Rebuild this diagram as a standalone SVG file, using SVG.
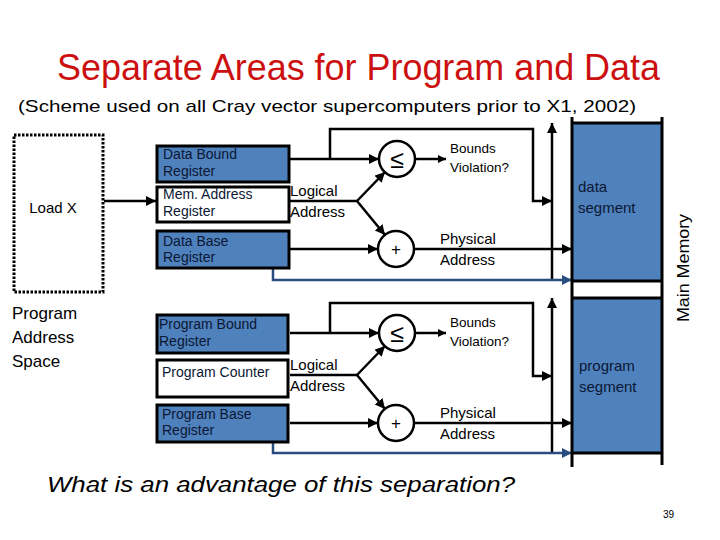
<svg xmlns="http://www.w3.org/2000/svg" width="720" height="540" viewBox="0 0 720 540">
<defs>
<style>
text{font-family:"Liberation Sans",Arial,sans-serif;}
.reg{fill:#4F81BD;stroke:#000;stroke-width:3;}
.wreg{fill:#fff;stroke:#000;stroke-width:3;}
.rt{font-size:14px;fill:#0b1733;}
.lbl{font-size:15px;fill:#000;}
.bv{font-size:13.5px;fill:#000;}
.seg{font-size:15px;fill:#0b1733;}
.ln{fill:none;stroke:#000;stroke-width:2.5;}
.bl{fill:none;stroke:#2B4C7E;stroke-width:2.5;}
.op{fill:#fff;stroke:#000;stroke-width:2.5;}
</style>
<marker id="ah" markerUnits="userSpaceOnUse" markerWidth="11" markerHeight="11" refX="10" refY="5" orient="auto"><path d="M0,0 L10,5 L0,10 z" fill="#000"/></marker>
<marker id="ahs" markerUnits="userSpaceOnUse" markerWidth="9" markerHeight="9" refX="8" refY="4" orient="auto"><path d="M0,0 L8,4 L0,8 z" fill="#000"/></marker>
<marker id="ahb" markerUnits="userSpaceOnUse" markerWidth="11" markerHeight="11" refX="10" refY="5" orient="auto"><path d="M0,0 L10,5 L0,10 z" fill="#2B4C7E"/></marker>
</defs>
<rect width="720" height="540" fill="#fff"/>
<text x="57" y="80" font-size="36" fill="#CC1010" textLength="603" lengthAdjust="spacingAndGlyphs">Separate Areas for Program and Data</text>
<text x="18" y="112" font-size="17" fill="#000" textLength="618" lengthAdjust="spacingAndGlyphs">(Scheme used on all Cray vector supercomputers prior to X1, 2002)</text>

<g id="connectors">
<line class="ln" x1="104" y1="201" x2="156" y2="201" marker-end="url(#ah)"/>
<line class="ln" x1="290" y1="159" x2="379" y2="159" marker-end="url(#ah)"/>
<polyline class="ln" points="330,159 330,129 533,129 533,201 552,201" marker-end="url(#ah)"/>
<line class="ln" x1="552" y1="280" x2="552" y2="123" marker-end="url(#ah)"/>
<line class="ln" x1="290" y1="201" x2="357" y2="201"/>
<line class="ln" x1="357" y1="201" x2="385" y2="172" marker-end="url(#ah)"/>
<line class="ln" x1="357" y1="201" x2="385" y2="235" marker-end="url(#ah)"/>
<line class="ln" x1="290" y1="249" x2="378" y2="249" marker-end="url(#ah)"/>
<line class="ln" x1="415" y1="159" x2="446" y2="159" marker-end="url(#ahs)"/>
<line class="ln" x1="414" y1="249" x2="572" y2="249" marker-end="url(#ah)"/>
<polyline class="bl" points="273,269 273,280 572,280" marker-end="url(#ahb)"/>
<line class="ln" x1="290" y1="333" x2="379" y2="333" marker-end="url(#ah)"/>
<polyline class="ln" points="330,333 330,303 533,303 533,376 552,376" marker-end="url(#ah)"/>
<line class="ln" x1="552" y1="453" x2="552" y2="298" marker-end="url(#ah)"/>
<line class="ln" x1="290" y1="375" x2="357" y2="375"/>
<line class="ln" x1="357" y1="375" x2="385" y2="346" marker-end="url(#ah)"/>
<line class="ln" x1="357" y1="375" x2="385" y2="409" marker-end="url(#ah)"/>
<line class="ln" x1="290" y1="423" x2="378" y2="423" marker-end="url(#ah)"/>
<line class="ln" x1="415" y1="333" x2="446" y2="333" marker-end="url(#ahs)"/>
<line class="ln" x1="414" y1="423" x2="572" y2="423" marker-end="url(#ah)"/>
<polyline class="bl" points="273,443 273,453 572,453" marker-end="url(#ahb)"/>
</g>

<g id="program-address-space">
<rect x="14" y="135" width="89" height="157" fill="none" stroke="#000" stroke-width="3" stroke-dasharray="2.5,1.5"/>
<text x="53" y="213" font-size="15" text-anchor="middle">Load X</text>
<text x="12" y="319" font-size="17">Program</text>
<text x="12" y="343" font-size="17">Address</text>
<text x="12" y="367" font-size="17">Space</text>
</g>

<g id="data-bound-register">
<rect class="reg" x="157" y="146" width="132" height="36"/>
<text class="rt" x="163" y="159">Data Bound</text>
<text class="rt" x="163" y="176">Register</text>
</g>
<g id="mem-address-register">
<rect class="wreg" x="157" y="187" width="132" height="35"/>
<text class="rt" x="163" y="199" fill="#000">Mem. Address</text>
<text class="rt" x="163" y="216" fill="#000">Register</text>
</g>
<g id="data-base-register">
<rect class="reg" x="157" y="231" width="132" height="37"/>
<text class="rt" x="163" y="246">Data Base</text>
<text class="rt" x="163" y="262">Register</text>
</g>

<g id="data-compare">
<circle class="op" cx="397" cy="159" r="18"/>
<text x="397" y="168" font-size="25" text-anchor="middle">≤</text>
</g>
<g id="data-add">
<circle class="op" cx="396" cy="249" r="18"/>
<text x="396" y="255" font-size="17" text-anchor="middle">+</text>
</g>
<text class="lbl" x="290" y="196">Logical</text>
<text class="lbl" x="290" y="217">Address</text>
<text class="bv" x="450" y="153">Bounds</text>
<text class="bv" x="450" y="172">Violation?</text>
<text class="lbl" x="440" y="244">Physical</text>
<text class="lbl" x="440" y="265">Address</text>

<g id="program-bound-register">
<rect class="reg" x="157" y="315" width="131" height="38"/>
<text class="rt" x="159" y="329">Program Bound</text>
<text class="rt" x="159" y="346">Register</text>
</g>
<g id="program-counter">
<rect class="wreg" x="157" y="360" width="131" height="37"/>
<text class="rt" x="162" y="377" fill="#000">Program Counter</text>
</g>
<g id="program-base-register">
<rect class="reg" x="157" y="405" width="131" height="37"/>
<text class="rt" x="162" y="419">Program Base</text>
<text class="rt" x="162" y="435">Register</text>
</g>

<g id="program-compare">
<circle class="op" cx="397" cy="333" r="18"/>
<text x="397" y="342" font-size="25" text-anchor="middle">≤</text>
</g>
<g id="program-add">
<circle class="op" cx="396" cy="423" r="18"/>
<text x="396" y="429" font-size="17" text-anchor="middle">+</text>
</g>
<text class="lbl" x="290" y="370">Logical</text>
<text class="lbl" x="290" y="391">Address</text>
<text class="bv" x="450" y="327">Bounds</text>
<text class="bv" x="450" y="346">Violation?</text>
<text class="lbl" x="440" y="418">Physical</text>
<text class="lbl" x="440" y="439">Address</text>

<g id="main-memory">
<rect x="572" y="123" width="90" height="158" fill="#4F81BD"/>
<rect x="572" y="298" width="90" height="155" fill="#4F81BD"/>
<g stroke="#000" stroke-width="3">
<line x1="572" y1="117" x2="572" y2="467"/>
<line x1="662" y1="117" x2="662" y2="465"/>
<line x1="572" y1="123" x2="662" y2="123"/>
<line x1="572" y1="281" x2="662" y2="281"/>
<line x1="572" y1="298" x2="662" y2="298"/>
<line x1="572" y1="453" x2="662" y2="453"/>
</g>
<text class="seg" x="578" y="192">data</text>
<text class="seg" x="578" y="213">segment</text>
<text class="seg" x="579" y="371">program</text>
<text class="seg" x="579" y="392">segment</text>
<text x="0" y="0" font-size="17" text-anchor="middle" textLength="108" lengthAdjust="spacingAndGlyphs" transform="translate(689,268) rotate(-90)">Main Memory</text>
</g>

<text x="47" y="492" font-size="22" font-style="italic" textLength="468" lengthAdjust="spacingAndGlyphs">What is an advantage of this separation?</text>
<text x="663" y="518" font-size="10">39</text>
</svg>
